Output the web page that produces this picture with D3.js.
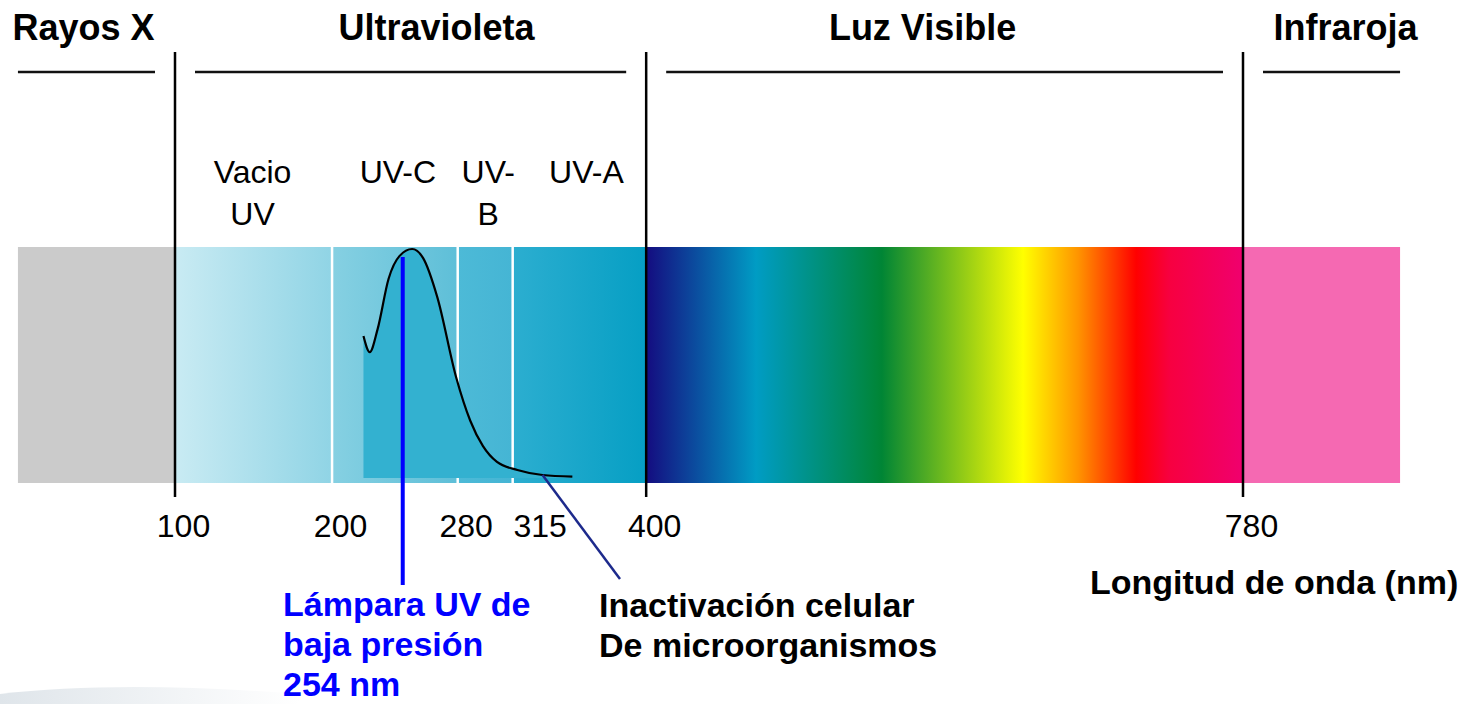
<!DOCTYPE html>
<html>
<head>
<meta charset="utf-8">
<script src="https://cdn.jsdelivr.net/npm/d3@7"></script>
<style>
  html, body { margin: 0; padding: 0; background: #fff; }
  svg { display: block; font-family: "Liberation Sans", Arial, sans-serif; }
</style>
</head>
<body>
<div id="chart"></div>
<script>
// wavelength bands (nm)
const bandEdges = [0, 100, 200, 280, 315, 400, 780, 880];
const bandColors = [
  ['#cbcbcb', '#cbcbcb'],
  ['#c9ebf3', '#90d4e5'],
  ['#86d0e2', '#5ebfd8'],
  ['#4dbad7', '#45b5d4'],
  ['#2caed0', '#069fc4'],
  null,
  ['#f569b2', '#f569b2']
];
const separatorsNm = [200, 280, 315];

// main regions
const regionTitles = ['Rayos X', 'Ultravioleta', 'Luz Visible', 'Infraroja'];
const regionEdges = [0, 100, 400, 780, 880];

// UV sub-bands
const subBandLabels = [['Vacio', 'UV'], ['UV-C'], ['UV-', 'B'], ['UV-A']];
const subBandEdges = [100, 200, 280, 315, 400];

// visible spectrum
const spectrumNm = [400, 470, 550, 640, 675, 712, 733, 780];
const spectrumColors = ['#140c80', '#009cc4', '#008535', '#ffff00', '#ff9400', '#ff0000', '#f70040', '#f0006e'];

// tick values
const tickValues = [100, 200, 280, 315, 400, 780];
const boundaryNm = [100, 400, 780];

// germicidal effectiveness curve
const curveNm = [220, 224, 229, 236, 243, 251, 258, 267, 279, 288, 296, 305, 318, 334, 353];
const curveRel = [0.62, 0.55, 0.65, 0.87, 0.97, 1.0, 0.96, 0.79, 0.44, 0.25, 0.14, 0.07, 0.035, 0.013, 0.006];

const lampNm = 245;
const lampLabel = ['Lámpara UV de', 'baja presión', '254 nm'];
const inactNm = 334;
const inactLabel = ['Inactivación celular', 'De microorganismos'];
const axisTitle = 'Longitud de onda (nm)';

const W = 1472, H = 704;
const barTop = 247, barBottom = 483;

const x = d3.scaleLinear().domain([100, 780]).range([175, 1243]);
const yRel = d3.scaleLinear().domain([0, 1]).range([478, 249]);

const svg = d3.select('#chart').append('svg')
  .attr('width', W)
  .attr('height', H);

const defs = svg.append('defs');

// faint swoosh bottom-left
const sw = defs.append('linearGradient').attr('id', 'swoosh')
  .attr('x1', 0).attr('x2', 1).attr('y1', 0).attr('y2', 0);
sw.append('stop').attr('offset', 0).attr('stop-color', '#dfe5ea');
sw.append('stop').attr('offset', 1).attr('stop-color', '#ffffff');
svg.append('path')
  .attr('d', 'M0,704 L0,694 Q120,680 300,694 L300,704 Z')
  .attr('fill', 'url(#swoosh)');

// band gradients
const bands = bandColors.map((c, i) => ({i, x0: bandEdges[i], x1: bandEdges[i + 1], c}));
bands.forEach(b => {
  const g = defs.append('linearGradient').attr('id', 'band' + b.i)
    .attr('gradientUnits', 'userSpaceOnUse')
    .attr('x1', x(b.x0)).attr('x2', x(b.x1)).attr('y1', 0).attr('y2', 0);
  if (b.c) {
    g.append('stop').attr('offset', 0).attr('stop-color', b.c[0]);
    g.append('stop').attr('offset', 1).attr('stop-color', b.c[1]);
  } else {
    spectrumNm.forEach((nm, k) => {
      g.append('stop')
        .attr('offset', (nm - b.x0) / (b.x1 - b.x0))
        .attr('stop-color', spectrumColors[k]);
    });
  }
});

svg.append('g').selectAll('rect')
  .data(bands)
  .enter().append('rect')
  .attr('x', d => x(d.x0))
  .attr('y', barTop)
  .attr('width', d => x(d.x1) - x(d.x0))
  .attr('height', barBottom - barTop)
  .attr('fill', d => `url(#band${d.i})`);

svg.append('g').selectAll('line')
  .data(separatorsNm)
  .enter().append('line')
  .attr('x1', d => x(d)).attr('x2', d => x(d))
  .attr('y1', barTop).attr('y2', barBottom)
  .attr('stroke', '#fff')
  .attr('stroke-width', 2.5);

// germicidal curve
const pts = curveNm.map((nm, i) => ({nm, v: curveRel[i]}));
const area = d3.area()
  .x(d => x(d.nm))
  .y0(yRel(0))
  .y1(d => yRel(d.v))
  .curve(d3.curveMonotoneX);
const line = d3.line()
  .x(d => x(d.nm))
  .y(d => yRel(d.v))
  .curve(d3.curveMonotoneX);

svg.append('path')
  .datum(pts)
  .attr('d', area)
  .attr('fill', '#33b1d0');
svg.append('path')
  .datum(pts)
  .attr('d', line)
  .attr('fill', 'none')
  .attr('stroke', '#000')
  .attr('stroke-width', 2.2);

// region boundary lines
svg.append('g').selectAll('line')
  .data(boundaryNm)
  .enter().append('line')
  .attr('x1', d => x(d)).attr('x2', d => x(d))
  .attr('y1', 52).attr('y2', 497)
  .attr('stroke', '#000')
  .attr('stroke-width', 2.5);

// region top rules and titles
const regions = regionTitles.map((t, i) => ({t, a: regionEdges[i], b: regionEdges[i + 1]}));
const inset = 20;
svg.append('g').selectAll('line')
  .data(regions)
  .enter().append('line')
  .attr('x1', d => x(d.a) + (boundaryNm.includes(d.a) ? inset : 0))
  .attr('x2', d => x(d.b) - (boundaryNm.includes(d.b) ? inset : 0))
  .attr('y1', 72).attr('y2', 72)
  .attr('stroke', '#111')
  .attr('stroke-width', 2.5);

const titleDx = [-13, 26, -22, 24];
svg.append('g').selectAll('text')
  .data(regions)
  .enter().append('text')
  .attr('x', (d, i) => (x(d.a) + x(d.b)) / 2 + titleDx[i])
  .attr('y', 40)
  .attr('text-anchor', 'middle')
  .attr('font-size', 36)
  .attr('font-weight', 'bold')
  .attr('fill', '#000')
  .text(d => d.t);

// UV sub-band labels
const sub = svg.append('g')
  .attr('font-size', 32)
  .attr('text-anchor', 'middle')
  .attr('fill', '#000');
subBandLabels.forEach((lines, i) => {
  const cx = (x(subBandEdges[i]) + x(subBandEdges[i + 1])) / 2 + (i === 0 ? -1 : i === 3 ? 7 : 3);
  lines.forEach((s, k) => {
    sub.append('text')
      .attr('x', cx)
      .attr('y', 183 + k * 42)
      .text(s);
  });
});

// tick labels via axis
const axis = d3.axisBottom(x)
  .tickValues(tickValues)
  .tickSize(0)
  .tickPadding(0)
  .tickFormat(d3.format('d'));
const ax = svg.append('g')
  .attr('transform', `translate(0,${barBottom})`)
  .call(axis);
ax.select('.domain').remove();
ax.selectAll('text')
  .attr('font-family', '"Liberation Sans", Arial, sans-serif')
  .attr('font-size', 32)
  .attr('fill', '#000')
  .attr('dy', null)
  .attr('y', 54)
  .attr('x', d => d === 315 ? 27 : 8);

// lamp line
svg.append('line')
  .attr('x1', x(lampNm)).attr('x2', x(lampNm))
  .attr('y1', yRel(0.965)).attr('y2', 585)
  .attr('stroke', '#0000ff')
  .attr('stroke-width', 4);

const lampText = svg.append('g')
  .attr('font-size', 34)
  .attr('font-weight', 'bold')
  .attr('fill', '#0000ff');
lampLabel.forEach((s, k) => {
  lampText.append('text').attr('x', 283).attr('y', 616 + k * 40).text(s);
});

// inactivation leader
const inactV = curveRel[curveNm.indexOf(inactNm)];
svg.append('line')
  .attr('x1', x(inactNm)).attr('y1', yRel(inactV))
  .attr('x2', 620).attr('y2', 579)
  .attr('stroke', '#1d2a8c')
  .attr('stroke-width', 2.5);

const inactText = svg.append('g')
  .attr('font-size', 34)
  .attr('font-weight', 'bold')
  .attr('fill', '#000');
inactLabel.forEach((s, k) => {
  inactText.append('text').attr('x', 599).attr('y', 617 + k * 40).text(s);
});

svg.append('text')
  .attr('x', 1090)
  .attr('y', 594)
  .attr('font-size', 34)
  .attr('font-weight', 'bold')
  .attr('fill', '#000')
  .text(axisTitle);
</script>
</body>
</html>
